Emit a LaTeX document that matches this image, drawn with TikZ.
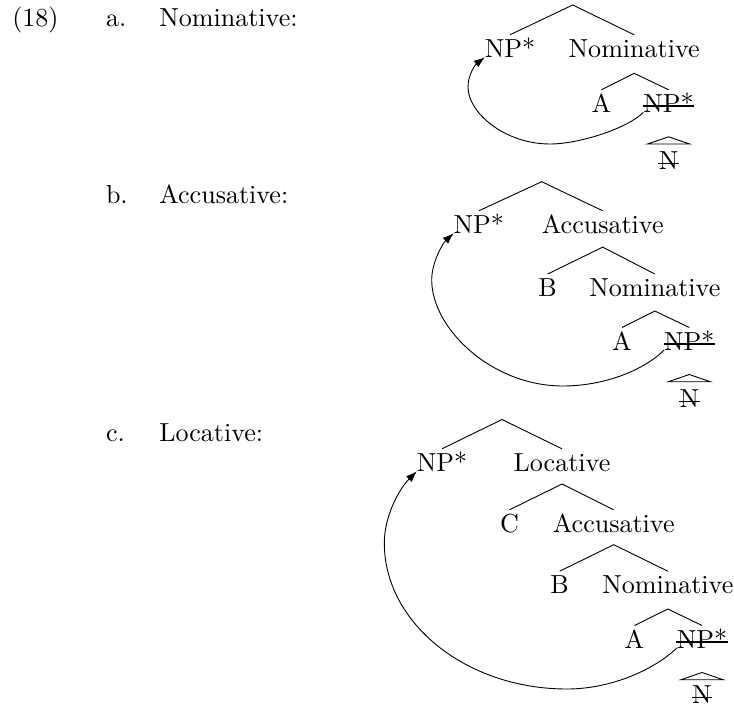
\documentclass[tikz,border=0pt]{standalone}
\usepackage{graphicx}
\usetikzlibrary{arrows.meta,calc}
\newcommand{\T}[1]{\scalebox{2.606}{#1}}
\tikzset{
  lab/.style={inner sep=0pt, outer sep=0pt, anchor=base},
  labw/.style={inner sep=0pt, outer sep=0pt, anchor=base west},
  branch/.style={line width=0.9pt},
  strikeout/.style={line width=1.6pt},
  roof/.style={line width=0.9pt, line join=miter},
  movearrow/.style={line width=0.9pt, -{Latex[length=11pt,width=8pt]}}
}
\newcommand{\Branch}[3]{% apex coordinate, left child, right child
  \draw[branch] ($(#2.base)+(0,22.5)$) -- (#1) -- ($(#3.base)+(0,22.5)$);}
\newcommand{\Strike}[1]{%
  \draw[strikeout] ($(#1.base west)+(-0.5,6)$) -- ($(#1.base east)+(0.5,6)$);}
\newcommand{\Roof}[1]{%
  \draw[roof] ($(#1.base)+(0,-24.5)$) -- ($(#1.base)+(21,-31.7)$) -- ($(#1.base)+(-21,-31.7)$) -- cycle;}
\begin{document}
\begin{tikzpicture}[x=1pt,y=1pt]
\useasboundingbox (0,0) rectangle (734,-706);

% left labels
\node[labw] (num) at (12.3,-26.7) {\T{(18)}};
\node[labw] (la) at (106,-26.7) {\T{a.}};
\node[labw] (ta) at (159.3,-26.7) {\T{Nominative:}};
\node[labw] (lb) at (106,-203.3) {\T{b.}};
\node[labw] (tb) at (159.3,-203.3) {\T{Accusative:}};
\node[labw] (lc) at (106,-441.7) {\T{c.}};
\node[labw] (tc) at (159.3,-441.7) {\T{Locative:}};

% ---------- tree a ----------
\coordinate (ra) at (572.7,-5);
\node[lab] (a1) at (510,-57.3) {\T{NP*}};
\node[lab] (a2) at (634.2,-57.3) {\T{Nominative}};
\node[lab] (a3) at (601.3,-112.3) {\T{A}};
\node[lab] (a4) at (668.6,-112.3) {\T{NP*}};
\node[lab] (a5) at ($(a4.base)+(0,-57.3)$) {\T{N}};
\Branch{ra}{a1}{a2}
\coordinate (ra2) at ($(a2.base)+(0,-16)$);
\Branch{ra2}{a3}{a4}
\Strike{a4}
\Roof{a4}
\Strike{a5}
\draw[movearrow] (a4.base west) .. controls (628,-128) and (580,-144) .. (550,-144)
  .. controls (505,-144) and (468,-113) .. (468,-87)
  .. controls (468,-74) and (476,-64) .. (a1.base west);

% ---------- tree b ----------
\coordinate (rb) at (541.7,-181.7);
\node[lab] (b1) at (478.8,-233.3) {\T{NP*}};
\node[lab] (b2) at (602.7,-233.3) {\T{Accusative}};
\node[lab] (b3) at (547.7,-296.5) {\T{B}};
\node[lab] (b4) at (654.8,-296.5) {\T{Nominative}};
\node[lab] (b5) at (622,-350) {\T{A}};
\node[lab] (b6) at (689.3,-350) {\T{NP*}};
\node[lab] (b7) at ($(b6.base)+(0,-57.3)$) {\T{N}};
\Branch{rb}{b1}{b2}
\coordinate (rb2) at ($(b2.base)+(0,-13.8)$);
\Branch{rb2}{b3}{b4}
\coordinate (rb3) at ($(b4.base)+(0,-14.5)$);
\Branch{rb3}{b5}{b6}
\Strike{b6}
\Roof{b6}
\Strike{b7}
\draw[movearrow] (b6.base west) .. controls (643,-371) and (603,-386) .. (563,-386)
  .. controls (491,-386) and (431.7,-328) .. (431.7,-280)
  .. controls (431.7,-262) and (443,-243) .. (b1.base west);

% ---------- tree c ----------
\coordinate (rc) at (502,-419.5);
\node[lab] (c1) at (442,-471.3) {\T{NP*}};
\node[lab] (c2) at (562,-471.3) {\T{Locative}};
\node[lab] (c3) at (509.5,-532.3) {\T{C}};
\node[lab] (c4) at (613.7,-532.3) {\T{Accusative}};
\node[lab] (c5) at (559.7,-593.7) {\T{B}};
\node[lab] (c6) at (667.8,-593.7) {\T{Nominative}};
\node[lab] (c7) at (634.5,-648) {\T{A}};
\node[lab] (c8) at (702,-648) {\T{NP*}};
\node[lab] (c9) at ($(c8.base)+(0,-55.3)$) {\T{N}};
\Branch{rc}{c1}{c2}
\coordinate (rc2) at ($(c2.base)+(0,-12.7)$);
\Branch{rc2}{c3}{c4}
\coordinate (rc3) at ($(c4.base)+(0,-12.4)$);
\Branch{rc3}{c5}{c6}
\coordinate (rc4) at ($(c6.base)+(0,-15.3)$);
\Branch{rc4}{c7}{c8}
\Strike{c8}
\Roof{c8}
\Strike{c9}
\draw[movearrow] (c8.base west) .. controls (655,-669) and (612,-689) .. (567,-689)
  .. controls (466,-689) and (384.3,-623) .. (384.3,-543)
  .. controls (384.3,-515) and (400,-488) .. (c1.base west);
\end{tikzpicture}
\end{document}
